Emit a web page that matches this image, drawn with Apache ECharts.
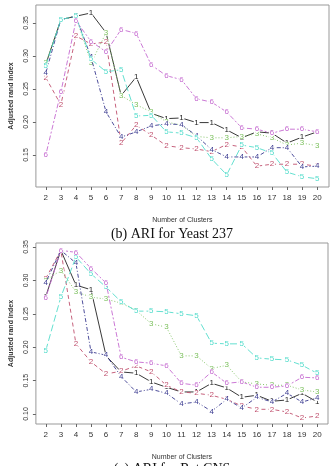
<!DOCTYPE html>
<html>
<head>
<meta charset="utf-8">
<script src="https://cdn.jsdelivr.net/npm/echarts@6/dist/echarts.min.js"></script>
<style>
  html, body { margin: 0; padding: 0; background: #fff; }
  #chart { width: 333px; height: 466px; }
</style>
</head>
<body>
<div id="chart"></div>
<script>
  // number of clusters
  var clusters = [2, 3, 4, 5, 6, 7, 8, 9, 10, 11, 12, 13, 14, 15, 16, 17, 18, 19, 20];
  var yTicksTop = [0.15, 0.20, 0.25, 0.30, 0.35];
  var yTicksBottom = [0.10, 0.15, 0.20, 0.25, 0.30, 0.35];

  // (b) Yeast 237
  var yeast1 = [0.287, 0.355, 0.360, 0.365, 0.335, 0.240, 0.268, 0.213, 0.205, 0.206, 0.199, 0.199, 0.188, 0.176, 0.185, 0.183, 0.168, 0.177, 0.185];
  var yeast2 = [0.267, 0.226, 0.330, 0.318, 0.321, 0.168, 0.195, 0.180, 0.164, 0.161, 0.159, 0.155, 0.166, 0.162, 0.133, 0.136, 0.136, 0.136, 0.133];
  var yeast3 = [0.289, 0.355, 0.360, 0.289, 0.335, 0.240, 0.226, 0.215, 0.200, 0.195, 0.178, 0.176, 0.176, 0.178, 0.182, 0.176, 0.165, 0.168, 0.164];
  var yeast4 = [0.274, 0.355, 0.360, 0.298, 0.215, 0.177, 0.185, 0.194, 0.197, 0.196, 0.179, 0.158, 0.147, 0.147, 0.147, 0.161, 0.161, 0.132, 0.133];
  var yeast5 = [0.285, 0.355, 0.360, 0.295, 0.276, 0.279, 0.209, 0.210, 0.185, 0.183, 0.176, 0.144, 0.120, 0.165, 0.161, 0.153, 0.124, 0.117, 0.114];
  var yeast6 = [0.150, 0.245, 0.353, 0.322, 0.306, 0.340, 0.334, 0.286, 0.270, 0.264, 0.235, 0.230, 0.215, 0.191, 0.189, 0.183, 0.189, 0.189, 0.185];

  // (c) Rat CNS
  var rat1 = [0.276, 0.345, 0.293, 0.286, 0.187, 0.163, 0.161, 0.148, 0.140, 0.133, 0.133, 0.146, 0.139, 0.125, 0.128, 0.119, 0.121, 0.131, 0.118];
  var rat2 = [0.303, 0.345, 0.205, 0.178, 0.160, 0.164, 0.172, 0.163, 0.143, 0.133, 0.131, 0.128, 0.122, 0.112, 0.107, 0.107, 0.103, 0.094, 0.097];
  var rat3 = [0.300, 0.315, 0.283, 0.275, 0.272, 0.266, 0.255, 0.235, 0.230, 0.187, 0.187, 0.168, 0.173, 0.148, 0.145, 0.143, 0.143, 0.136, 0.133];
  var rat4 = [0.297, 0.345, 0.326, 0.193, 0.188, 0.156, 0.133, 0.137, 0.131, 0.115, 0.118, 0.104, 0.122, 0.109, 0.125, 0.118, 0.131, 0.118, 0.124];
  var rat5 = [0.195, 0.275, 0.335, 0.310, 0.290, 0.268, 0.254, 0.254, 0.253, 0.250, 0.247, 0.206, 0.205, 0.205, 0.184, 0.182, 0.181, 0.173, 0.161];
  var rat6 = [0.274, 0.345, 0.342, 0.318, 0.296, 0.185, 0.178, 0.176, 0.172, 0.146, 0.143, 0.163, 0.146, 0.148, 0.140, 0.140, 0.142, 0.155, 0.154];

  var colors = ['#222222', '#c0506e', '#7cc05e', '#3a3a90', '#52dccb', '#c56ad0'];
  var dashes = ['solid', [4, 3], [1, 2], [1, 2, 4, 2], [7, 3], [2, 2, 5, 2]];

  var chart = echarts.init(document.getElementById('chart'));

  function pairs(values) {
    return values.map(function (v, i) { return [clusters[i], v]; });
  }

  function makeSeries(list, axisIdx) {
    return list.map(function (values, i) {
      return {
        name: String(i + 1),
        type: 'line',
        xAxisIndex: axisIdx,
        yAxisIndex: axisIdx,
        data: pairs(values),
        symbol: 'circle',
        symbolSize: 6,
        showAllSymbol: true,
        itemStyle: {color: '#ffffff', borderWidth: 0},
        lineStyle: {color: colors[i], width: 0.9, type: dashes[i]},
        label: {
          show: true,
          position: 'inside',
          formatter: String(i + 1),
          color: colors[i],
          fontSize: 8,
          fontFamily: 'Liberation Sans'
        },
        labelLayout: {hideOverlap: false},
        z: 2 + i
      };
    });
  }

  function xAxisFor(gridIdx, maxVal) {
    return {
      type: 'value',
      gridIndex: gridIdx,
      min: 1.345,
      max: maxVal,
      name: 'Number of Clusters',
      nameLocation: 'middle',
      nameGap: 30,
      nameTextStyle: {fontSize: 7, color: '#333', fontFamily: 'Liberation Sans'},
      axisLine: {show: false},
      splitLine: {show: false},
      axisTick: {show: true, length: 3, customValues: clusters, lineStyle: {color: '#666'}},
      axisLabel: {fontSize: 8, color: '#333', margin: 7, customValues: clusters, fontFamily: 'Liberation Sans'}
    };
  }

  function yAxisFor(gridIdx, minVal, maxVal, ticks) {
    return {
      type: 'value',
      gridIndex: gridIdx,
      min: minVal,
      max: maxVal,
      name: 'Adjusted rand index',
      nameLocation: 'middle',
      nameRotate: 90,
      nameGap: 20,
      nameTextStyle: {fontSize: 7, fontWeight: 'bold', color: '#333', fontFamily: 'Liberation Sans'},
      axisLine: {show: false},
      splitLine: {show: false},
      axisTick: {show: true, length: 3, customValues: ticks, lineStyle: {color: '#666'}},
      axisLabel: {
        fontSize: 7, color: '#333', rotate: 90, margin: 6,
        customValues: ticks,
        fontFamily: 'Liberation Sans',
        formatter: function (v) { return v.toFixed(2); }
      }
    };
  }

  var option = {
    animation: false,
    backgroundColor: '#ffffff',
    title: [
      {
        text: '(b) ARI for Yeast 237',
        left: 167, top: 222, textAlign: 'center',
        textStyle: {fontFamily: 'Liberation Serif', fontWeight: 'normal', fontSize: 14, color: '#111'}
      },
      {
        text: '(c) ARI for Rat CNS',
        left: 167, top: 457, textAlign: 'center',
        textStyle: {fontFamily: 'Liberation Serif', fontWeight: 'normal', fontSize: 14, color: '#111'}
      }
    ],
    grid: [
      {left: 32, top: 5, width: 297, height: 182, show: true, borderColor: '#999', borderWidth: 1},
      {left: 32, top: 243, width: 296, height: 181, show: true, borderColor: '#999', borderWidth: 1}
    ],
    xAxis: [xAxisFor(0, 20.785), xAxisFor(1, 20.72)],
    yAxis: [
      yAxisFor(0, 0.1015, 0.377, yTicksTop),
      yAxisFor(1, 0.085, 0.356, yTicksBottom)
    ],
    series: makeSeries([yeast1, yeast2, yeast3, yeast4, yeast5, yeast6], 0)
      .concat(makeSeries([rat1, rat2, rat3, rat4, rat5, rat6], 1))
  };

  chart.setOption(option);
</script>
</body>
</html>
